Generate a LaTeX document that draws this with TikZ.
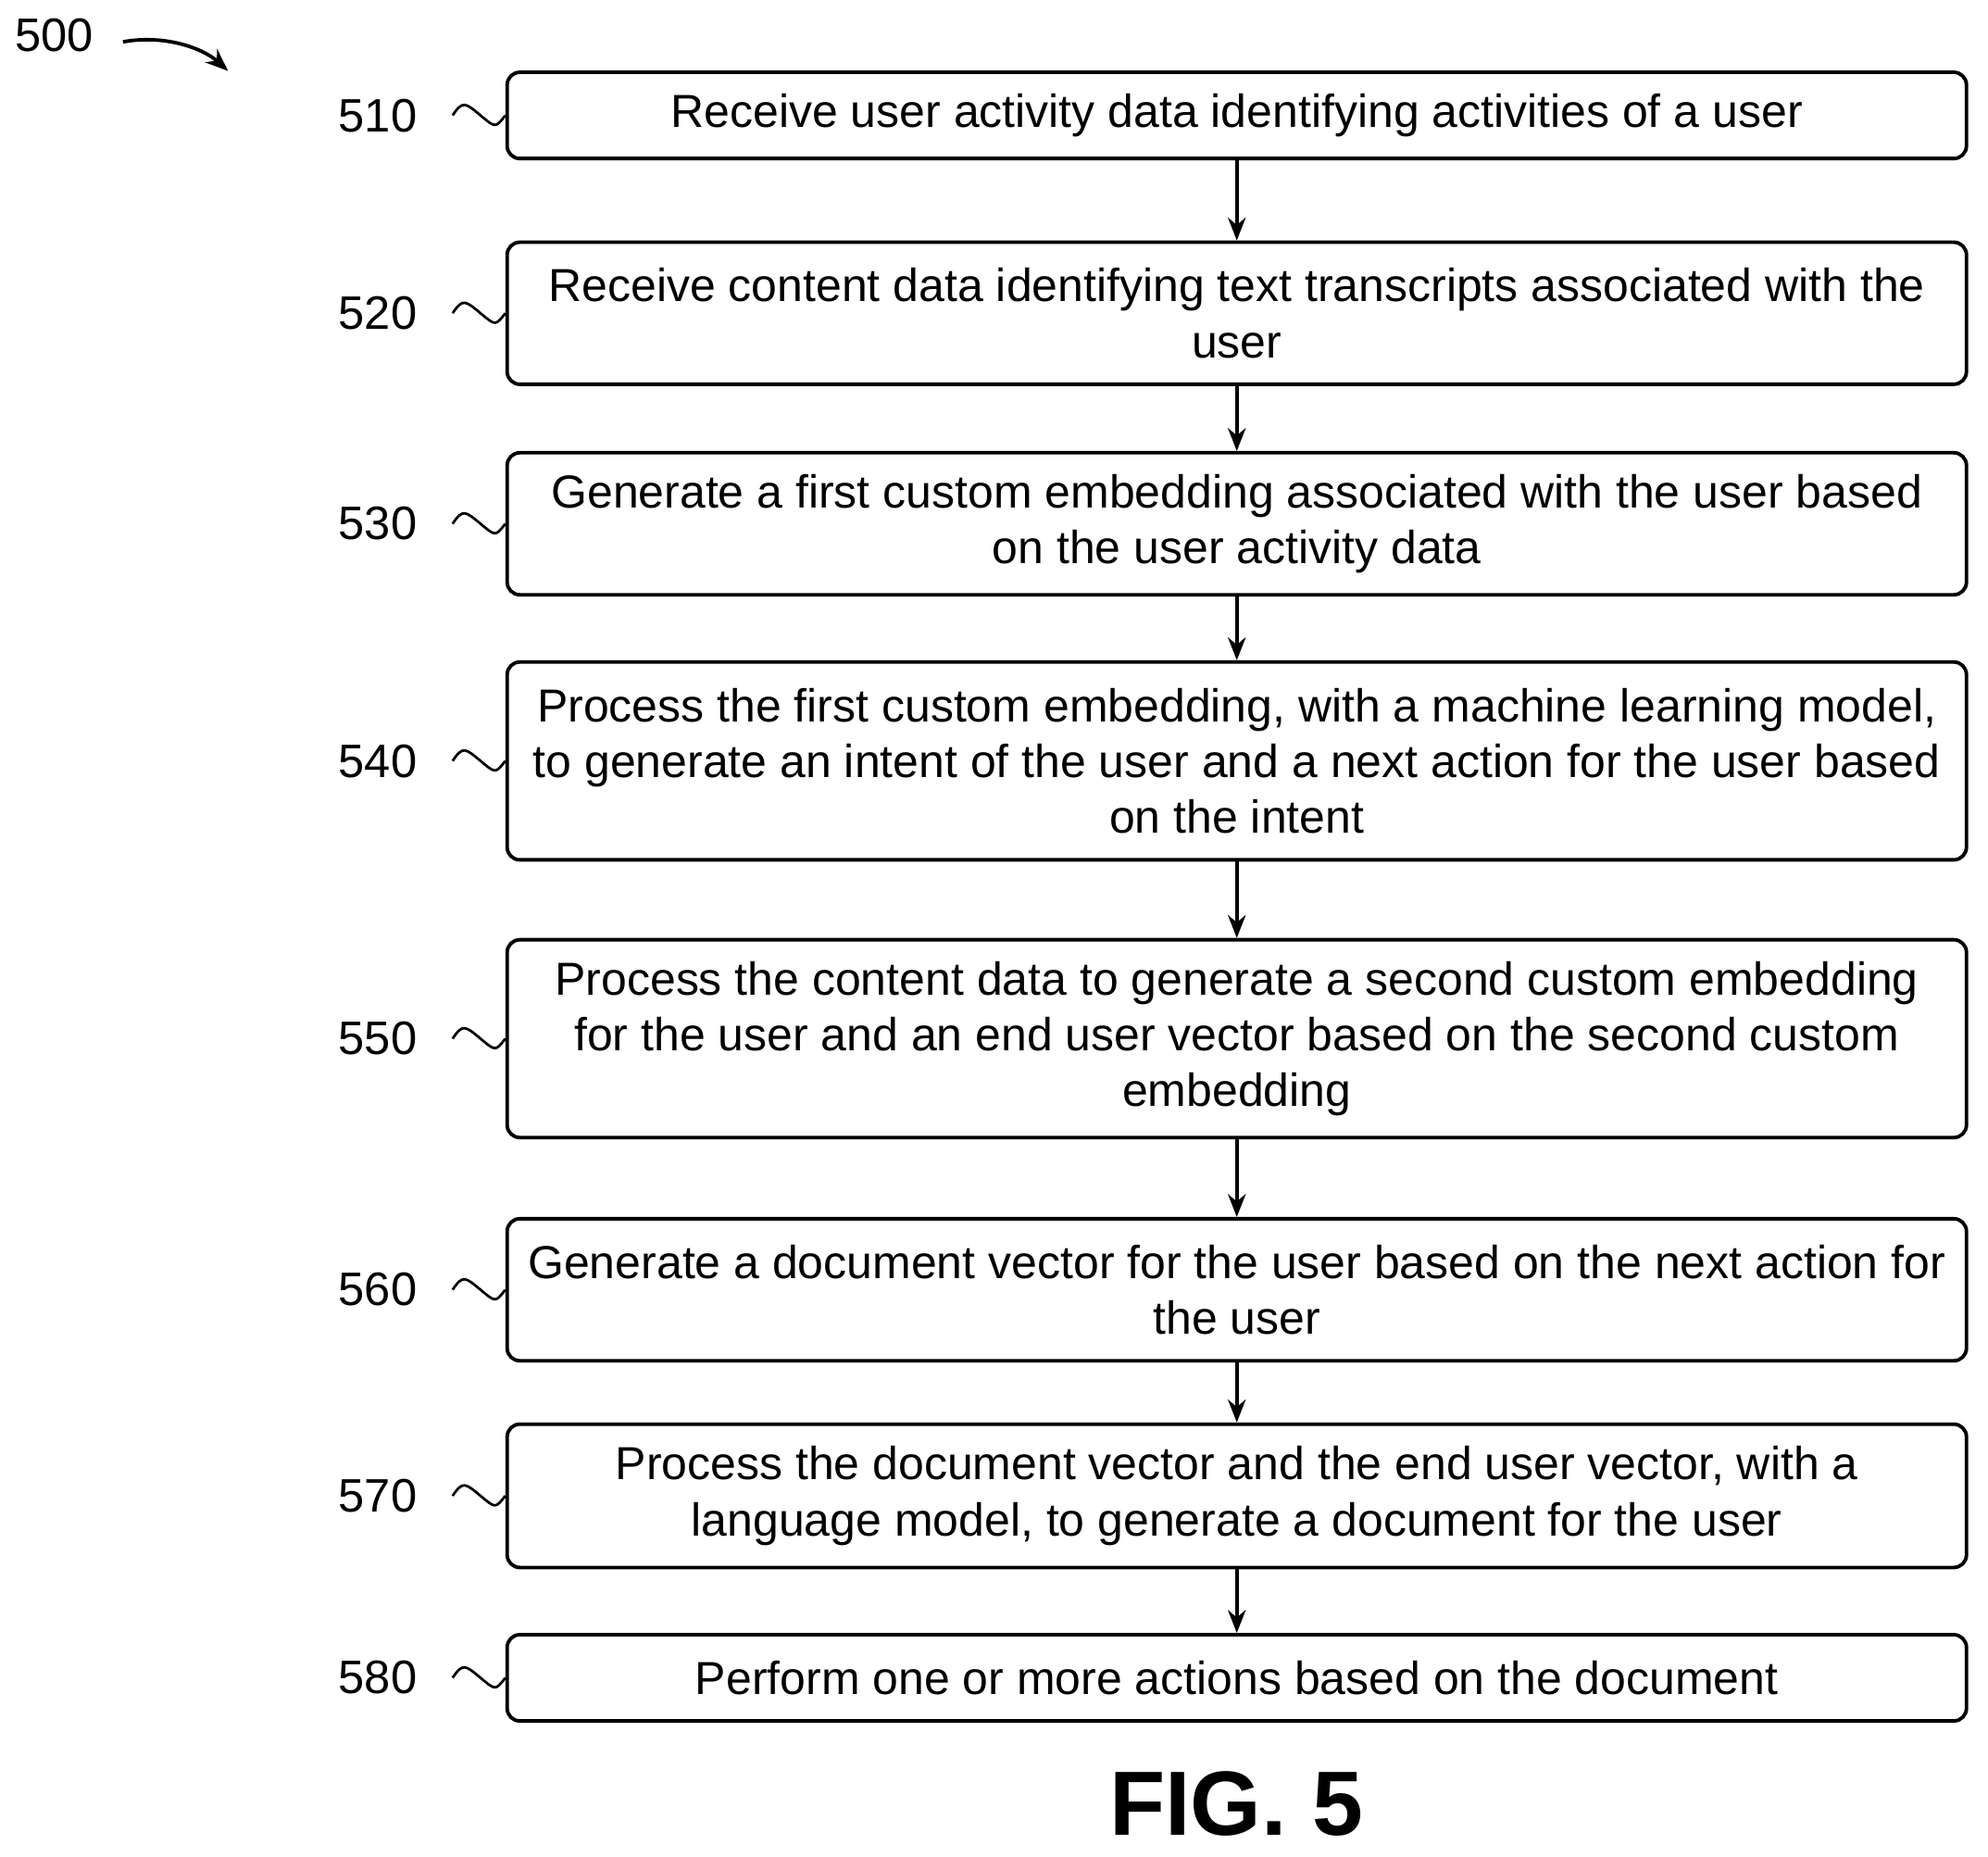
\documentclass[tikz,border=0pt]{standalone}
\usepackage{fontspec}
\setmainfont{Liberation Sans}
\usetikzlibrary{arrows.meta}
\begin{document}
\begin{tikzpicture}[x=1pt,y=-1pt,
 box/.style={draw,line width=2.8pt,rounded corners=10pt,inner sep=0pt,align=center,font=\fontsize{36.5}{44}\selectfont},
 lab/.style={font=\fontsize{37}{40}\selectfont},
 arr/.style={-{Stealth[length=18pt,width=14pt]},line width=2.8pt},
 tl/.style={line width=2pt}]
\useasboundingbox (0,0) rectangle (1568,1464);
\def\bx#1#2#3#4{%
 \pgfmathsetmacro\hh{#3-#2}%
 \node[box,minimum width=1151pt,minimum height=\hh pt] (b#1) at (975.5,{(#2+#3)/2}) {#4};
 \node[lab] (l#1) at (298,{(#2+#3)/2}) {#1};
 \coordinate (t#1) at (357,{(#2+#3)/2});
 \draw[tl] (t#1) .. controls ++(8,-12) and ++(-12,-10) .. ++(22,0) .. controls ++(12,10) and ++(-8,10) .. (b#1.west);}
\bx{510}{57}{125}{Receive user activity data identifying activities of a user}
\bx{520}{191}{303}{Receive content data identifying text transcripts associated with the\\user}
\bx{530}{357}{469}{Generate a first custom embedding associated with the user based\\on the user activity data}
\bx{540}{522}{678}{Process the first custom embedding, with a machine learning model,\\to generate an intent of the user and a next action for the user based\\on the intent}
\bx{550}{741}{897}{Process the content data to generate a second custom embedding\\for the user and an end user vector based on the second custom\\embedding}
\bx{560}{961}{1073}{Generate a document vector for the user based on the next action for\\the user}
\bx{570}{1123}{1236}{Process the document vector and the end user vector, with a\\language model, to generate a document for the user}
\bx{580}{1289}{1357}{Perform one or more actions based on the document}
\foreach \a/\b in {510/520,520/530,530/540,540/550,550/560,560/570,570/580}
 \draw[arr] (b\a) -- (b\b);
\node[font=\fontsize{72}{80}\selectfont\bfseries] (fig) at (975,1422) {FIG. 5};
\node[lab] (n500) at (43,28) {500};
\coordinate (a0) at (97,33);
\coordinate (a1) at (180,56);
\draw[line width=2.8pt,-{Stealth[length=18pt,width=14pt]}] (a0) .. controls (130,27) and (160,38) .. (a1);
\end{tikzpicture}
\end{document}
